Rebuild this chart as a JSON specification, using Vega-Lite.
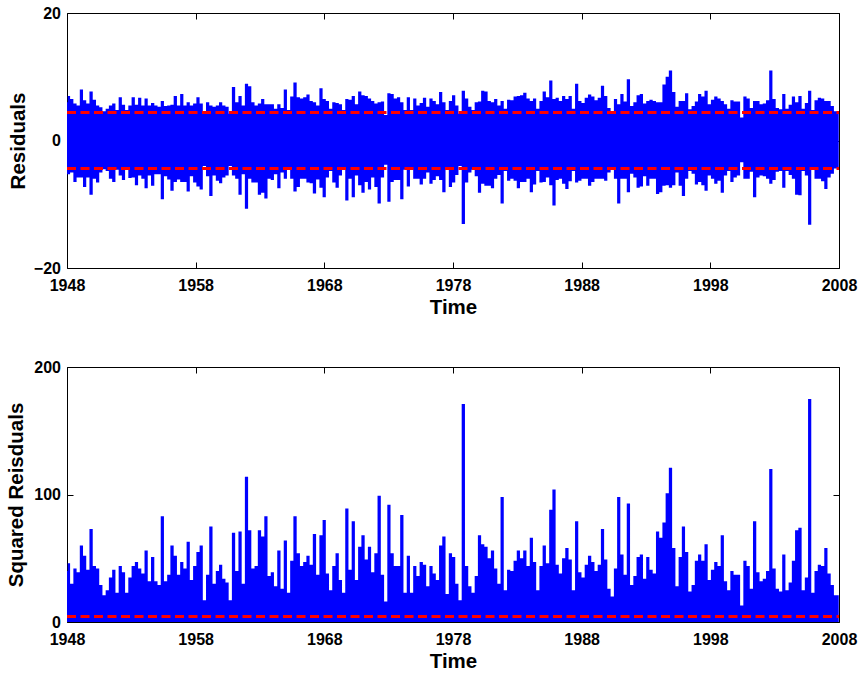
{
  "$schema": "https://vega.github.io/schema/vega-lite/v6.json",
  "padding": {"left": 5, "top": 5, "right": 5, "bottom": 5},
  "background": "#ffffff",
  "spacing": 99,
  "bounds": "flush",
  "config": {
    "font": "Liberation Sans",
    "view": {"stroke": null},
    "axis": {
      "labelFont": "Liberation Sans",
      "titleFont": "Liberation Sans",
      "labelFontSize": 16,
      "titleFontSize": 20.5,
      "labelFontWeight": "bold",
      "titleFontWeight": "bold",
      "labelColor": "black",
      "titleColor": "black",
      "labelFlush": false,
      "labelOverlap": false,
      "domainColor": "black",
      "domainWidth": 1,
      "tickColor": "black",
      "tickWidth": 1,
      "tickSize": -6,
      "grid": false
    },
    "axisX": {"labelPadding": 15},
    "axisY": {"labelPadding": 12.5}
  },
  "datasets": {
    "res": [
      {"t": 1948.0, "hi": 6.0, "lo": -5.3, "sq": 40},
      {"t": 1948.11, "hi": 7.0, "lo": -5.3, "sq": 46},
      {"t": 1948.37, "hi": 6.5, "lo": -5.0, "sq": 30},
      {"t": 1948.62, "hi": 5.8, "lo": -6.5, "sq": 42},
      {"t": 1948.87, "hi": 5.5, "lo": -5.8, "sq": 39},
      {"t": 1949.12, "hi": 8.0, "lo": -5.8, "sq": 60},
      {"t": 1949.37, "hi": 6.3, "lo": -7.3, "sq": 52},
      {"t": 1949.62, "hi": 5.8, "lo": -5.8, "sq": 41},
      {"t": 1949.87, "hi": 7.7, "lo": -8.5, "sq": 73},
      {"t": 1950.13, "hi": 6.4, "lo": -6.0, "sq": 44},
      {"t": 1950.38, "hi": 5.5, "lo": -6.6, "sq": 42},
      {"t": 1950.63, "hi": 5.2, "lo": -5.0, "sq": 29},
      {"t": 1950.88, "hi": 4.6, "lo": -4.5, "sq": 21},
      {"t": 1951.13, "hi": 5.0, "lo": -4.8, "sq": 25},
      {"t": 1951.38, "hi": 5.5, "lo": -6.0, "sq": 35},
      {"t": 1951.64, "hi": 5.8, "lo": -6.5, "sq": 41},
      {"t": 1951.89, "hi": 4.8, "lo": -4.6, "sq": 23},
      {"t": 1952.14, "hi": 6.8, "lo": -5.5, "sq": 44},
      {"t": 1952.39, "hi": 5.6, "lo": -6.2, "sq": 39},
      {"t": 1952.64, "hi": 4.8, "lo": -4.6, "sq": 23},
      {"t": 1952.89, "hi": 5.5, "lo": -5.9, "sq": 35},
      {"t": 1953.15, "hi": 6.8, "lo": -5.8, "sq": 44},
      {"t": 1953.40, "hi": 5.6, "lo": -7.0, "sq": 47},
      {"t": 1953.65, "hi": 6.7, "lo": -5.5, "sq": 42},
      {"t": 1953.90, "hi": 5.5, "lo": -6.0, "sq": 38},
      {"t": 1954.15, "hi": 6.6, "lo": -7.5, "sq": 56},
      {"t": 1954.40, "hi": 5.5, "lo": -5.5, "sq": 32},
      {"t": 1954.66, "hi": 5.9, "lo": -7.1, "sq": 51},
      {"t": 1954.91, "hi": 5.5, "lo": -5.3, "sq": 32},
      {"t": 1955.16, "hi": 5.3, "lo": -5.3, "sq": 29},
      {"t": 1955.41, "hi": 6.2, "lo": -9.2, "sq": 83},
      {"t": 1955.66, "hi": 5.4, "lo": -5.6, "sq": 32},
      {"t": 1955.91, "hi": 5.5, "lo": -6.1, "sq": 37},
      {"t": 1956.16, "hi": 5.6, "lo": -7.9, "sq": 60},
      {"t": 1956.42, "hi": 7.0, "lo": -6.5, "sq": 52},
      {"t": 1956.67, "hi": 5.5, "lo": -6.1, "sq": 37},
      {"t": 1956.92, "hi": 7.3, "lo": -6.5, "sq": 47},
      {"t": 1957.17, "hi": 5.5, "lo": -6.5, "sq": 42},
      {"t": 1957.42, "hi": 6.0, "lo": -8.0, "sq": 63},
      {"t": 1957.67, "hi": 5.5, "lo": -5.6, "sq": 33},
      {"t": 1957.93, "hi": 5.8, "lo": -6.6, "sq": 44},
      {"t": 1958.18, "hi": 6.8, "lo": -7.2, "sq": 55},
      {"t": 1958.43, "hi": 5.8, "lo": -7.7, "sq": 60},
      {"t": 1958.68, "hi": 4.2, "lo": -4.0, "sq": 17},
      {"t": 1958.93, "hi": 6.0, "lo": -5.6, "sq": 37},
      {"t": 1959.18, "hi": 5.5, "lo": -8.7, "sq": 75},
      {"t": 1959.44, "hi": 5.3, "lo": -5.5, "sq": 30},
      {"t": 1959.69, "hi": 5.5, "lo": -6.3, "sq": 40},
      {"t": 1959.94, "hi": 6.0, "lo": -6.7, "sq": 45},
      {"t": 1960.19, "hi": 5.5, "lo": -5.8, "sq": 34},
      {"t": 1960.44, "hi": 5.3, "lo": -5.5, "sq": 31},
      {"t": 1960.69, "hi": 4.2, "lo": -4.0, "sq": 17},
      {"t": 1960.94, "hi": 8.4, "lo": -5.5, "sq": 70},
      {"t": 1961.20, "hi": 6.0, "lo": -6.0, "sq": 40},
      {"t": 1961.45, "hi": 7.0, "lo": -8.5, "sq": 71},
      {"t": 1961.70, "hi": 5.5, "lo": -5.3, "sq": 30},
      {"t": 1961.95, "hi": 8.9, "lo": -10.7, "sq": 114},
      {"t": 1962.20, "hi": 8.5, "lo": -6.0, "sq": 72},
      {"t": 1962.45, "hi": 6.0, "lo": -6.6, "sq": 42},
      {"t": 1962.70, "hi": 5.5, "lo": -6.6, "sq": 44},
      {"t": 1962.96, "hi": 5.8, "lo": -8.5, "sq": 72},
      {"t": 1963.21, "hi": 6.5, "lo": -8.2, "sq": 67},
      {"t": 1963.46, "hi": 5.7, "lo": -9.1, "sq": 83},
      {"t": 1963.71, "hi": 5.7, "lo": -6.0, "sq": 36},
      {"t": 1963.96, "hi": 5.7, "lo": -6.2, "sq": 39},
      {"t": 1964.21, "hi": 5.0, "lo": -5.3, "sq": 28},
      {"t": 1964.47, "hi": 5.7, "lo": -7.5, "sq": 56},
      {"t": 1964.72, "hi": 5.1, "lo": -5.0, "sq": 26},
      {"t": 1964.97, "hi": 8.0, "lo": -6.0, "sq": 64},
      {"t": 1965.22, "hi": 4.8, "lo": -4.6, "sq": 23},
      {"t": 1965.47, "hi": 6.9, "lo": -6.0, "sq": 48},
      {"t": 1965.72, "hi": 9.1, "lo": -8.0, "sq": 83},
      {"t": 1965.98, "hi": 6.8, "lo": -7.3, "sq": 54},
      {"t": 1966.23, "hi": 6.6, "lo": -6.0, "sq": 44},
      {"t": 1966.48, "hi": 6.8, "lo": -6.0, "sq": 47},
      {"t": 1966.73, "hi": 7.2, "lo": -6.6, "sq": 52},
      {"t": 1966.98, "hi": 6.2, "lo": -6.7, "sq": 45},
      {"t": 1967.23, "hi": 6.0, "lo": -8.3, "sq": 69},
      {"t": 1967.49, "hi": 5.5, "lo": -6.1, "sq": 37},
      {"t": 1967.74, "hi": 8.2, "lo": -7.4, "sq": 68},
      {"t": 1967.99, "hi": 6.5, "lo": -8.9, "sq": 80},
      {"t": 1968.24, "hi": 6.2, "lo": -5.8, "sq": 38},
      {"t": 1968.49, "hi": 5.0, "lo": -4.8, "sq": 25},
      {"t": 1968.74, "hi": 6.0, "lo": -6.6, "sq": 44},
      {"t": 1969.00, "hi": 5.9, "lo": -7.4, "sq": 54},
      {"t": 1969.25, "hi": 5.7, "lo": -5.5, "sq": 33},
      {"t": 1969.50, "hi": 4.8, "lo": -4.6, "sq": 23},
      {"t": 1969.75, "hi": 6.5, "lo": -9.4, "sq": 89},
      {"t": 1970.00, "hi": 6.4, "lo": -6.0, "sq": 41},
      {"t": 1970.25, "hi": 7.0, "lo": -8.9, "sq": 79},
      {"t": 1970.50, "hi": 5.7, "lo": -5.5, "sq": 33},
      {"t": 1970.75, "hi": 7.7, "lo": -7.0, "sq": 59},
      {"t": 1971.01, "hi": 7.1, "lo": -8.2, "sq": 68},
      {"t": 1971.26, "hi": 7.0, "lo": -6.5, "sq": 49},
      {"t": 1971.51, "hi": 6.6, "lo": -7.7, "sq": 59},
      {"t": 1971.76, "hi": 6.2, "lo": -5.8, "sq": 39},
      {"t": 1972.01, "hi": 5.8, "lo": -7.3, "sq": 54},
      {"t": 1972.26, "hi": 6.0, "lo": -9.9, "sq": 99},
      {"t": 1972.52, "hi": 6.1, "lo": -5.8, "sq": 37},
      {"t": 1972.77, "hi": 4.0, "lo": -3.8, "sq": 16},
      {"t": 1973.02, "hi": 7.4, "lo": -9.6, "sq": 92},
      {"t": 1973.27, "hi": 7.3, "lo": -6.5, "sq": 54},
      {"t": 1973.52, "hi": 6.6, "lo": -6.2, "sq": 44},
      {"t": 1973.77, "hi": 6.8, "lo": -6.2, "sq": 44},
      {"t": 1974.02, "hi": 6.0, "lo": -9.2, "sq": 84},
      {"t": 1974.28, "hi": 4.8, "lo": -4.6, "sq": 23},
      {"t": 1974.53, "hi": 6.8, "lo": -7.2, "sq": 52},
      {"t": 1974.78, "hi": 4.8, "lo": -4.6, "sq": 23},
      {"t": 1975.03, "hi": 6.6, "lo": -6.0, "sq": 44},
      {"t": 1975.28, "hi": 5.5, "lo": -6.0, "sq": 36},
      {"t": 1975.53, "hi": 5.9, "lo": -6.9, "sq": 47},
      {"t": 1975.79, "hi": 6.7, "lo": -6.0, "sq": 45},
      {"t": 1976.04, "hi": 5.3, "lo": -5.0, "sq": 28},
      {"t": 1976.29, "hi": 6.6, "lo": -6.8, "sq": 44},
      {"t": 1976.54, "hi": 6.2, "lo": -6.2, "sq": 38},
      {"t": 1976.79, "hi": 5.7, "lo": -5.6, "sq": 33},
      {"t": 1977.04, "hi": 7.6, "lo": -6.2, "sq": 60},
      {"t": 1977.29, "hi": 6.0, "lo": -8.1, "sq": 67},
      {"t": 1977.55, "hi": 4.8, "lo": -4.6, "sq": 22},
      {"t": 1977.80, "hi": 6.2, "lo": -7.3, "sq": 54},
      {"t": 1978.05, "hi": 7.1, "lo": -6.6, "sq": 51},
      {"t": 1978.30, "hi": 5.5, "lo": -5.4, "sq": 30},
      {"t": 1978.55, "hi": 4.2, "lo": -4.0, "sq": 17},
      {"t": 1978.80, "hi": 7.8, "lo": -13.1, "sq": 171},
      {"t": 1979.06, "hi": 6.6, "lo": -6.6, "sq": 44},
      {"t": 1979.31, "hi": 5.3, "lo": -5.0, "sq": 28},
      {"t": 1979.56, "hi": 4.8, "lo": -4.6, "sq": 23},
      {"t": 1979.81, "hi": 6.0, "lo": -5.6, "sq": 36},
      {"t": 1980.06, "hi": 6.1, "lo": -8.2, "sq": 68},
      {"t": 1980.31, "hi": 7.8, "lo": -6.8, "sq": 61},
      {"t": 1980.56, "hi": 7.7, "lo": -7.1, "sq": 59},
      {"t": 1980.82, "hi": 6.2, "lo": -7.1, "sq": 50},
      {"t": 1981.07, "hi": 6.0, "lo": -7.5, "sq": 56},
      {"t": 1981.32, "hi": 6.5, "lo": -6.0, "sq": 42},
      {"t": 1981.57, "hi": 5.5, "lo": -5.4, "sq": 30},
      {"t": 1981.82, "hi": 6.2, "lo": -9.9, "sq": 98},
      {"t": 1982.07, "hi": 5.0, "lo": -4.8, "sq": 25},
      {"t": 1982.33, "hi": 6.4, "lo": -6.3, "sq": 41},
      {"t": 1982.58, "hi": 6.3, "lo": -6.0, "sq": 40},
      {"t": 1982.83, "hi": 6.9, "lo": -6.3, "sq": 48},
      {"t": 1983.08, "hi": 7.0, "lo": -7.5, "sq": 56},
      {"t": 1983.33, "hi": 7.1, "lo": -6.5, "sq": 50},
      {"t": 1983.58, "hi": 7.5, "lo": -6.5, "sq": 56},
      {"t": 1983.84, "hi": 6.6, "lo": -6.0, "sq": 44},
      {"t": 1984.09, "hi": 6.2, "lo": -8.1, "sq": 66},
      {"t": 1984.34, "hi": 6.6, "lo": -6.9, "sq": 47},
      {"t": 1984.59, "hi": 5.0, "lo": -4.8, "sq": 25},
      {"t": 1984.84, "hi": 6.2, "lo": -6.6, "sq": 44},
      {"t": 1985.09, "hi": 7.7, "lo": -6.5, "sq": 60},
      {"t": 1985.35, "hi": 6.8, "lo": -5.8, "sq": 46},
      {"t": 1985.60, "hi": 9.4, "lo": -7.0, "sq": 88},
      {"t": 1985.85, "hi": 6.5, "lo": -10.2, "sq": 104},
      {"t": 1986.10, "hi": 6.7, "lo": -6.2, "sq": 45},
      {"t": 1986.35, "hi": 6.2, "lo": -6.0, "sq": 38},
      {"t": 1986.60, "hi": 7.0, "lo": -6.8, "sq": 50},
      {"t": 1986.85, "hi": 6.5, "lo": -7.6, "sq": 58},
      {"t": 1987.11, "hi": 7.0, "lo": -6.4, "sq": 49},
      {"t": 1987.36, "hi": 5.0, "lo": -4.8, "sq": 25},
      {"t": 1987.61, "hi": 8.9, "lo": -6.6, "sq": 79},
      {"t": 1987.86, "hi": 6.2, "lo": -6.3, "sq": 39},
      {"t": 1988.11, "hi": 5.9, "lo": -6.0, "sq": 35},
      {"t": 1988.36, "hi": 6.7, "lo": -6.0, "sq": 45},
      {"t": 1988.62, "hi": 7.2, "lo": -7.1, "sq": 52},
      {"t": 1988.87, "hi": 6.9, "lo": -6.5, "sq": 47},
      {"t": 1989.12, "hi": 6.3, "lo": -6.0, "sq": 40},
      {"t": 1989.37, "hi": 6.7, "lo": -6.0, "sq": 45},
      {"t": 1989.62, "hi": 8.6, "lo": -6.0, "sq": 73},
      {"t": 1989.87, "hi": 7.0, "lo": -6.3, "sq": 49},
      {"t": 1990.12, "hi": 5.1, "lo": -5.0, "sq": 26},
      {"t": 1990.38, "hi": 4.5, "lo": -4.3, "sq": 20},
      {"t": 1990.63, "hi": 6.5, "lo": -6.0, "sq": 42},
      {"t": 1990.88, "hi": 5.7, "lo": -9.9, "sq": 98},
      {"t": 1991.13, "hi": 7.3, "lo": -6.0, "sq": 53},
      {"t": 1991.38, "hi": 6.1, "lo": -6.0, "sq": 37},
      {"t": 1991.63, "hi": 9.6, "lo": -8.1, "sq": 93},
      {"t": 1991.89, "hi": 5.4, "lo": -5.2, "sq": 29},
      {"t": 1992.14, "hi": 6.0, "lo": -5.8, "sq": 36},
      {"t": 1992.39, "hi": 7.1, "lo": -7.4, "sq": 51},
      {"t": 1992.64, "hi": 7.3, "lo": -7.2, "sq": 53},
      {"t": 1992.89, "hi": 5.8, "lo": -5.6, "sq": 34},
      {"t": 1993.14, "hi": 6.2, "lo": -7.1, "sq": 51},
      {"t": 1993.39, "hi": 6.4, "lo": -6.0, "sq": 41},
      {"t": 1993.65, "hi": 6.2, "lo": -6.0, "sq": 38},
      {"t": 1993.90, "hi": 6.0, "lo": -8.4, "sq": 71},
      {"t": 1994.15, "hi": 6.0, "lo": -8.1, "sq": 66},
      {"t": 1994.40, "hi": 8.8, "lo": -7.1, "sq": 78},
      {"t": 1994.65, "hi": 10.0, "lo": -7.0, "sq": 101},
      {"t": 1994.90, "hi": 11.0, "lo": -7.4, "sq": 121},
      {"t": 1995.16, "hi": 7.6, "lo": -7.0, "sq": 58},
      {"t": 1995.41, "hi": 5.3, "lo": -5.0, "sq": 28},
      {"t": 1995.66, "hi": 6.2, "lo": -7.1, "sq": 51},
      {"t": 1995.91, "hi": 6.2, "lo": -8.7, "sq": 75},
      {"t": 1996.16, "hi": 7.4, "lo": -6.0, "sq": 55},
      {"t": 1996.41, "hi": 4.9, "lo": -4.8, "sq": 24},
      {"t": 1996.67, "hi": 5.4, "lo": -5.2, "sq": 29},
      {"t": 1996.92, "hi": 6.1, "lo": -6.9, "sq": 48},
      {"t": 1997.17, "hi": 7.3, "lo": -6.5, "sq": 53},
      {"t": 1997.42, "hi": 6.9, "lo": -7.0, "sq": 48},
      {"t": 1997.67, "hi": 7.8, "lo": -7.9, "sq": 61},
      {"t": 1997.92, "hi": 5.7, "lo": -5.5, "sq": 33},
      {"t": 1998.17, "hi": 6.4, "lo": -6.0, "sq": 41},
      {"t": 1998.43, "hi": 6.9, "lo": -6.8, "sq": 47},
      {"t": 1998.68, "hi": 6.6, "lo": -6.3, "sq": 44},
      {"t": 1998.93, "hi": 6.2, "lo": -8.2, "sq": 68},
      {"t": 1999.18, "hi": 5.7, "lo": -5.5, "sq": 32},
      {"t": 1999.43, "hi": 5.0, "lo": -4.8, "sq": 25},
      {"t": 1999.68, "hi": 6.3, "lo": -6.5, "sq": 40},
      {"t": 1999.93, "hi": 6.1, "lo": -5.8, "sq": 37},
      {"t": 2000.19, "hi": 6.1, "lo": -5.5, "sq": 37},
      {"t": 2000.44, "hi": 3.6, "lo": -3.4, "sq": 13},
      {"t": 2000.69, "hi": 6.9, "lo": -6.0, "sq": 48},
      {"t": 2000.94, "hi": 6.6, "lo": -6.0, "sq": 44},
      {"t": 2001.19, "hi": 5.1, "lo": -4.9, "sq": 26},
      {"t": 2001.44, "hi": 6.2, "lo": -8.9, "sq": 79},
      {"t": 2001.70, "hi": 6.2, "lo": -5.8, "sq": 39},
      {"t": 2001.95, "hi": 5.7, "lo": -5.5, "sq": 32},
      {"t": 2002.20, "hi": 5.8, "lo": -5.6, "sq": 34},
      {"t": 2002.45, "hi": 6.3, "lo": -6.0, "sq": 40},
      {"t": 2002.70, "hi": 11.0, "lo": -6.8, "sq": 120},
      {"t": 2002.95, "hi": 6.5, "lo": -6.2, "sq": 42},
      {"t": 2003.21, "hi": 5.1, "lo": -4.9, "sq": 26},
      {"t": 2003.46, "hi": 4.9, "lo": -4.8, "sq": 24},
      {"t": 2003.71, "hi": 7.3, "lo": -7.4, "sq": 53},
      {"t": 2003.96, "hi": 5.0, "lo": -4.8, "sq": 25},
      {"t": 2004.21, "hi": 5.6, "lo": -5.4, "sq": 31},
      {"t": 2004.46, "hi": 6.9, "lo": -6.0, "sq": 48},
      {"t": 2004.71, "hi": 6.0, "lo": -8.5, "sq": 72},
      {"t": 2004.97, "hi": 7.0, "lo": -8.6, "sq": 74},
      {"t": 2005.22, "hi": 5.0, "lo": -4.8, "sq": 25},
      {"t": 2005.47, "hi": 5.9, "lo": -5.5, "sq": 35},
      {"t": 2005.72, "hi": 7.8, "lo": -13.2, "sq": 175},
      {"t": 2005.97, "hi": 4.8, "lo": -4.6, "sq": 23},
      {"t": 2006.22, "hi": 6.3, "lo": -6.0, "sq": 40},
      {"t": 2006.48, "hi": 6.7, "lo": -6.0, "sq": 45},
      {"t": 2006.73, "hi": 6.6, "lo": -6.4, "sq": 44},
      {"t": 2006.98, "hi": 6.2, "lo": -7.6, "sq": 58},
      {"t": 2007.23, "hi": 6.2, "lo": -5.8, "sq": 38},
      {"t": 2007.48, "hi": 5.4, "lo": -5.2, "sq": 29},
      {"t": 2007.73, "hi": 4.6, "lo": -4.4, "sq": 21},
      {"t": 2007.98, "hi": 4.6, "lo": -4.4, "sq": 21}
    ],
    "band": [{"v": 4.4}, {"v": -4.4}],
    "band2": [{"v": 4.3}]
  },
  "vconcat": [
    {
      "width": 772,
      "height": 255,
      "layer": [
        {
          "data": {"name": "res"},
          "mark": {"type": "area", "color": "#0000ff", "interpolate": "step", "opacity": 1, "clip": true},
          "encoding": {
            "x": {
              "field": "t",
              "type": "quantitative",
              "scale": {"domain": [1948, 2008], "nice": false, "zero": false},
              "axis": {"orient": "bottom", "values": [1948, 1958, 1968, 1978, 1988, 1998, 2008], "format": "d", "title": "Time", "titleY": 29.5}
            },
            "y": {
              "field": "hi",
              "type": "quantitative",
              "scale": {"domain": [-20, 20], "nice": false},
              "axis": {"orient": "left", "values": [-20, 0, 20], "title": "Residuals", "titleX": -43, "titleBaseline": "alphabetic"}
            },
            "y2": {"field": "lo"}
          }
        },
        {
          "data": {"name": "band"},
          "mark": {"type": "rule", "color": "#ff0000", "strokeWidth": 3, "strokeDash": [9, 4.5]},
          "encoding": {
            "x": {"datum": 1948, "type": "quantitative", "axis": {"orient": "top", "values": [1948, 1958, 1968, 1978, 1988, 1998, 2008], "labels": false, "title": null}},
            "x2": {"datum": 2008},
            "y": {"field": "v", "type": "quantitative", "axis": {"orient": "right", "values": [-20, 0, 20], "labels": false, "title": null}}
          }
        }
      ],
      "resolve": {"axis": {"x": "independent", "y": "independent"}}
    },
    {
      "width": 772,
      "height": 255,
      "layer": [
        {
          "data": {"name": "res"},
          "mark": {"type": "area", "color": "#0000ff", "interpolate": "step", "opacity": 1, "clip": true},
          "encoding": {
            "x": {
              "field": "t",
              "type": "quantitative",
              "scale": {"domain": [1948, 2008], "nice": false, "zero": false},
              "axis": {"orient": "bottom", "values": [1948, 1958, 1968, 1978, 1988, 1998, 2008], "format": "d", "title": "Time", "titleY": 29.5}
            },
            "y": {
              "field": "sq",
              "type": "quantitative",
              "scale": {"domain": [0, 200], "nice": false},
              "axis": {"orient": "left", "values": [0, 100, 200], "title": "Squared Reisduals", "titleX": -45, "titleBaseline": "alphabetic"}
            },
            "y2": {"datum": 0}
          }
        },
        {
          "data": {"name": "band2"},
          "mark": {"type": "rule", "color": "#ff0000", "strokeWidth": 3, "strokeDash": [9, 4.5]},
          "encoding": {
            "x": {"datum": 1948, "type": "quantitative", "axis": {"orient": "top", "values": [1948, 1958, 1968, 1978, 1988, 1998, 2008], "labels": false, "title": null}},
            "x2": {"datum": 2008},
            "y": {"field": "v", "type": "quantitative", "axis": {"orient": "right", "values": [0, 100, 200], "labels": false, "title": null}}
          }
        }
      ],
      "resolve": {"axis": {"x": "independent", "y": "independent"}}
    }
  ]
}
